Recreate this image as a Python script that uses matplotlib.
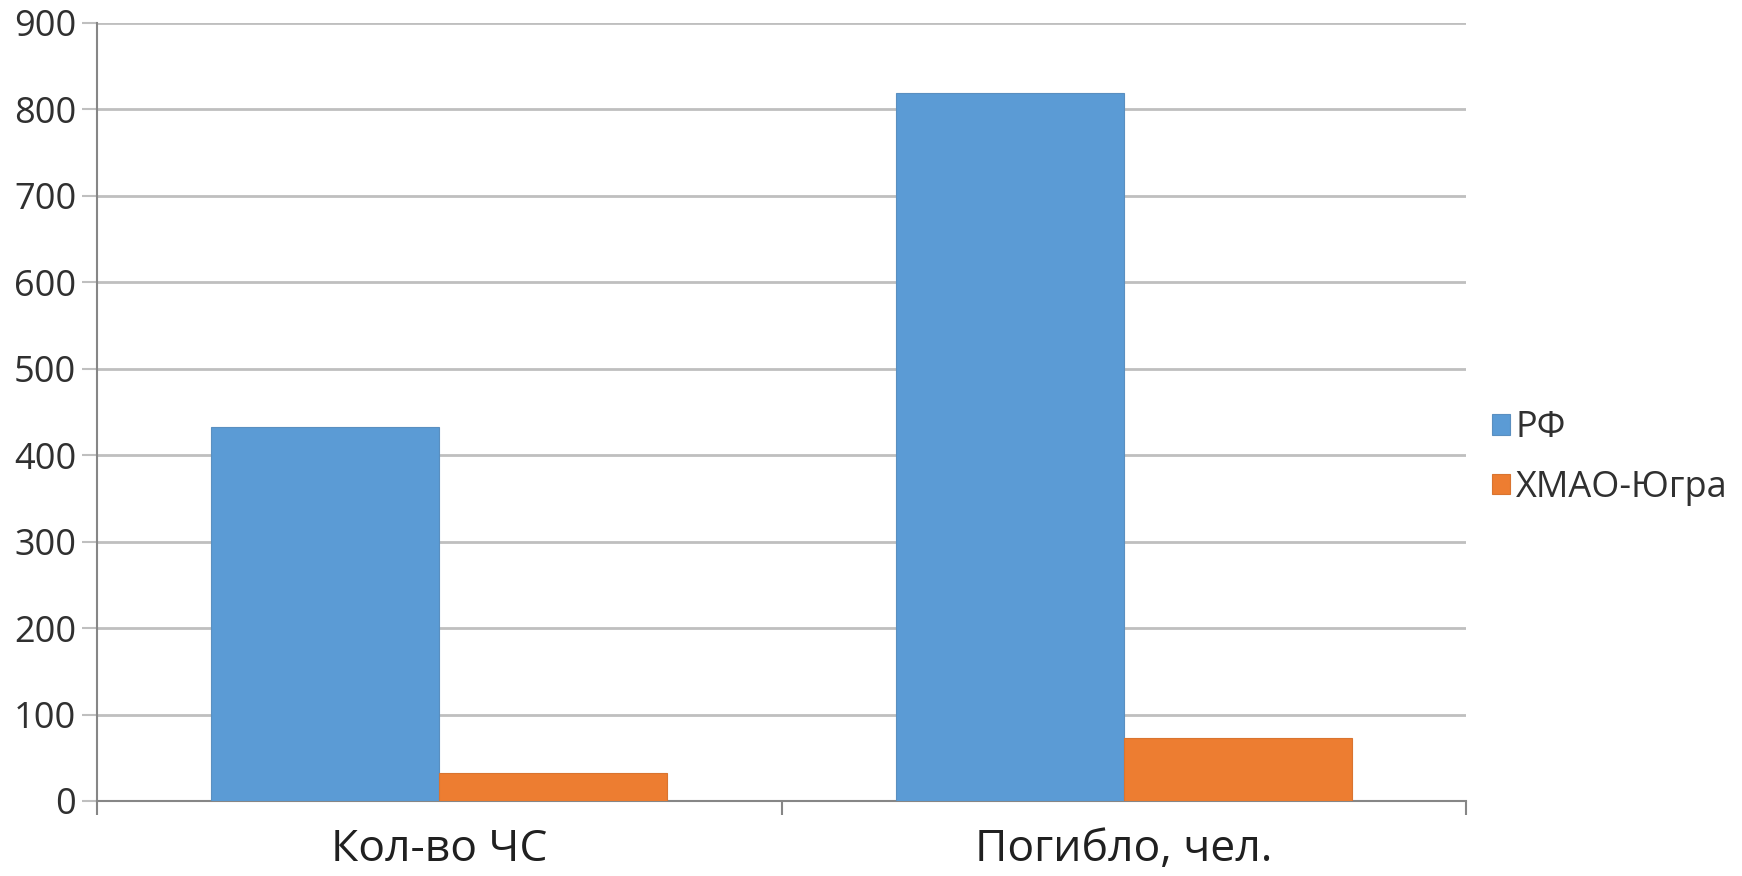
import matplotlib
matplotlib.use("Agg")
import matplotlib.pyplot as plt
import numpy as np

categories = ["Кол-во ЧС", "Погибло, чел."]
series_names = ["РФ", "ХМАО-Югра"]
rf_values = [433, 819]
hmao_values = [32, 73]
y_ticks = [0, 100, 200, 300, 400, 500, 600, 700, 800, 900]

plt.rcParams['font.family'] = ['Open Sans', 'DejaVu Sans']

fig = plt.figure(figsize=(17.42, 8.76), dpi=100)
ax = fig.add_axes([97/1742, 1-801/876, (1466-97)/1742, (801-23)/876])

x = np.arange(len(categories))
w = 1/3
ax.bar(x - w/2, rf_values, width=w, color="#5B9BD5", edgecolor="#5A8FC0", linewidth=0.8, label=series_names[0], zorder=3)
ax.bar(x + w/2, hmao_values, width=w, color="#ED7D31", edgecolor="#D97430", linewidth=0.8, label=series_names[1], zorder=3)

ax.set_xlim(-0.5, len(categories) - 0.5)
ax.set_ylim(0, 900)
ax.set_yticks(y_ticks)
ax.set_yticklabels([str(v) for v in y_ticks], fontsize=26, color="#303030")
ax.yaxis.grid(True, color="#BFBFBF", linewidth=2, zorder=0)
ax.set_axisbelow(True)

ax.set_xticks(x)
ax.set_xticklabels(categories, fontsize=32, color="#202020")
ax.tick_params(axis='x', length=0, pad=19)
ax.set_xticks(np.arange(-0.5, len(categories), 1.0), minor=True)
ax.tick_params(axis='x', which='minor', length=10, width=1.5, color="#868686")
ax.tick_params(axis='y', length=11, width=1.5, color="#BFBFBF", pad=4)

for s in ['top', 'right']:
    ax.spines[s].set_visible(False)
ax.spines['left'].set_color("#868686")
ax.spines['left'].set_linewidth(1.5)
ax.spines['bottom'].set_color("#868686")
ax.spines['bottom'].set_linewidth(1.5)

leg = fig.legend(loc='center left', bbox_to_anchor=(1492/1742, 1-458/876), frameon=False,
                 fontsize=26, handlelength=0.5, handleheight=0.5, handletextpad=0.15,
                 labelspacing=0.65, borderaxespad=0, borderpad=0)
for t in leg.get_texts():
    t.set_color("#303030")

fig.savefig("out.png", dpi=100, facecolor="white")
